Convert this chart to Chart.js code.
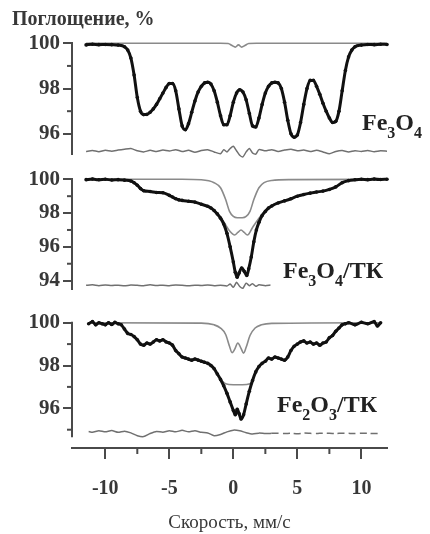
<!DOCTYPE html>
<html>
<head>
<meta charset="utf-8">
<script src="https://cdn.jsdelivr.net/npm/chart.js@4.4.1/dist/chart.umd.min.js"></script>
<style>
  html, body { margin: 0; padding: 0; background: #fff; }
  #wrap { position: relative; width: 430px; height: 534px; overflow: hidden; }
  canvas { position: absolute; left: 0; }
  .lab { position: absolute; font: bold 24px 'Liberation Serif', serif; color: #222; line-height: 24px; white-space: nowrap; }
  .lab sub { font-size: 16px; vertical-align: -8px; line-height: 0; }
</style>
</head>
<body>
<div id="wrap">
  <canvas id="c1" width="430" height="170" style="top:0px"></canvas>
  <canvas id="c2" width="430" height="150" style="top:155px"></canvas>
  <canvas id="c3" width="430" height="244" style="top:290px"></canvas>
  <div class="lab" style="left:362px;top:110px">Fe<sub>3</sub>O<sub>4</sub></div>
  <div class="lab" style="left:283px;top:258px">Fe<sub>3</sub>O<sub>4</sub>/ТК</div>
  <div class="lab" style="left:277px;top:392px">Fe<sub>2</sub>O<sub>3</sub>/ТК</div>
</div>
<script>
// --- data (velocity mm/s, absorption %) ---

// Fe3O4
var vel1 = [-11.5,-11,-10.5,-10,-9.5,-9,-8.5,-8.25,-8,-7.75,-7.5,-7.25,-7,-6.75,-6.5,-6.25,-6,-5.75,-5.5,-5.25,-5,-4.75,-4.5,-4.25,-4,-3.75,-3.5,-3.25,-3,-2.75,-2.5,-2.25,-2,-1.75,-1.5,-1.25,-1,-0.75,-0.5,-0.25,0,0.25,0.5,0.75,1,1.25,1.5,1.75,2,2.25,2.5,2.75,3,3.25,3.5,3.75,4,4.25,4.5,4.75,5,5.25,5.5,5.75,6,6.25,6.5,6.75,7,7.25,7.5,7.75,8,8.25,8.5,8.75,9,9.25,9.5,10,10.5,11,11.5,12];
var abs1 = [99.93,99.96,99.94,99.95,99.94,99.92,99.85,99.7,99.35,98.6,97.6,97.0,96.85,96.86,96.95,97.1,97.3,97.55,97.8,98.05,98.22,98.22,97.9,97.1,96.35,96.18,96.45,96.95,97.45,97.85,98.1,98.25,98.28,98.2,97.9,97.4,96.8,96.4,96.4,96.8,97.4,97.8,97.95,97.85,97.5,96.9,96.35,96.3,96.7,97.3,97.8,98.1,98.25,98.28,98.25,98.0,97.4,96.6,96.0,95.85,95.95,96.5,97.3,98.0,98.36,98.36,98.1,97.75,97.35,97.0,96.7,96.5,96.55,97.0,97.9,98.8,99.4,99.7,99.85,99.92,99.95,99.94,99.96,99.95];
var fitVel1 = [-11.5,-1.0,-0.4,-0.1,0.15,0.4,0.65,0.9,1.2,1.8,12];
var fit1 = [100,100,99.99,99.9,99.83,99.93,99.83,99.9,99.99,100,100];
var resVel1 = [-11.5,-11,-10.5,-10,-9.5,-9,-8.5,-8,-7.5,-7,-6.5,-6,-5.5,-5,-4.5,-4,-3.5,-3,-2.5,-2,-1.5,-1,-0.75,-0.5,-0.25,0,0.25,0.5,0.75,1,1.25,1.5,1.75,2,2.5,3,3.5,4,4.5,5,5.5,6,6.5,7,7.5,8,8.5,9,9.5,10,10.5,11,11.5,12];
var res1 = [95.22,95.26,95.21,95.27,95.23,95.28,95.32,95.35,95.25,95.2,95.27,95.22,95.28,95.24,95.3,95.22,95.27,95.18,95.26,95.3,95.2,95.12,95.3,95.2,95.35,95.45,95.25,95.05,94.98,95.2,95.35,95.15,95.1,95.3,95.25,95.3,95.22,95.28,95.32,95.25,95.28,95.22,95.27,95.2,95.12,95.22,95.26,95.2,95.25,95.22,95.26,95.21,95.25,95.23];

// Fe3O4/ТК
var vel2 = [-11.5,-11,-10.5,-10,-9.5,-9,-8.5,-8,-7.75,-7.5,-7.25,-7,-6.5,-6,-5.5,-5,-4.75,-4.5,-4.25,-4,-3.5,-3,-2.5,-2,-1.75,-1.5,-1.25,-1,-0.75,-0.5,-0.25,0,0.15,0.3,0.45,0.65,0.85,1.05,1.2,1.4,1.6,1.8,2,2.25,2.5,2.75,3,3.5,4,4.5,5,5.5,6,6.5,7,7.5,8,8.5,9,9.5,10,10.5,11,11.5,12];
var abs2 = [99.98,100.02,99.97,100,99.96,99.98,99.95,99.9,99.8,99.65,99.45,99.32,99.28,99.22,99.2,99.05,98.95,98.85,98.78,98.75,98.7,98.65,98.52,98.4,98.3,98.15,97.95,97.7,97.35,96.8,96.0,95.1,94.5,94.2,94.45,94.75,94.55,94.3,94.7,95.4,96.3,97.0,97.45,97.85,98.1,98.3,98.42,98.6,98.72,98.85,99.0,99.1,99.18,99.25,99.3,99.4,99.55,99.8,99.92,99.97,100,99.98,100.02,99.99,100];
var fitVelA2 = [-11.5,-4,-2.5,-1.5,-1.0,-0.6,-0.3,0,0.3,0.7,1.0,1.3,1.6,2.0,2.4,3.0,4.5,12];
var fitA2 = [100,100,99.97,99.8,99.5,98.8,98.1,97.8,97.72,97.72,97.8,98.1,98.8,99.5,99.8,99.93,99.98,100];
var fitVelB2 = [-1.5,-1.0,-0.6,-0.3,0.1,0.35,0.6,0.85,1.1,1.5,2.0,2.5,3.0,3.5,4.0];
var fitB2 = [98.2,97.75,97.3,96.95,96.7,96.85,97.0,96.85,96.7,97.15,97.7,98.15,98.45,98.62,98.72];
var resVel2 = [-11.5,-11,-10.5,-10,-9.5,-9,-8.5,-8,-7.5,-7,-6.5,-6,-5.5,-5,-4.5,-4,-3.5,-3,-2.5,-2,-1.5,-1,-0.5,-0.25,0,0.25,0.5,0.75,1,1.25,1.5,1.75,2,2.5,2.9];
var res2 = [93.72,93.75,93.7,93.74,93.71,93.73,93.69,93.74,93.72,93.7,93.75,93.71,93.73,93.7,93.74,93.72,93.69,93.73,93.71,93.74,93.7,93.73,93.68,93.8,93.6,93.9,93.65,93.55,93.85,93.7,93.82,93.66,93.75,93.7,93.74];

// Fe2O3/ТК
var vel3 = [-11.3,-11,-10.75,-10.5,-10.25,-10,-9.75,-9.5,-9.25,-9,-8.75,-8.5,-8.25,-8,-7.75,-7.5,-7.25,-7,-6.75,-6.5,-6.25,-6,-5.75,-5.5,-5.25,-5,-4.75,-4.5,-4.25,-4,-3.75,-3.5,-3.25,-3,-2.75,-2.5,-2.25,-2,-1.75,-1.5,-1.25,-1,-0.75,-0.5,-0.25,0,0.15,0.3,0.45,0.6,0.8,1,1.25,1.5,1.75,2,2.25,2.5,2.75,3,3.25,3.5,3.75,4,4.25,4.5,4.75,5,5.25,5.5,5.75,6,6.25,6.5,6.75,7,7.25,7.5,7.75,8,8.25,8.5,8.75,9,9.5,10,10.5,11,11.25,11.5];
var abs3 = [99.95,100.05,99.9,100,99.95,99.9,100,99.92,100.02,99.95,99.9,99.7,99.5,99.45,99.35,99.2,99.0,98.95,99.05,99.0,99.1,99.2,99.15,99.2,99.1,99.05,98.95,98.7,98.55,98.4,98.35,98.3,98.25,98.3,98.25,98.2,98.15,98.1,98.0,97.85,97.6,97.35,97.05,96.7,96.3,95.9,95.7,95.95,95.75,95.5,95.7,96.2,96.8,97.3,97.7,97.95,98.1,98.2,98.35,98.3,98.4,98.35,98.3,98.25,98.4,98.7,98.9,99.0,99.1,99.15,99.05,99.1,99.0,99.05,98.95,99.05,99.1,99.3,99.4,99.6,99.75,99.9,99.95,100,99.9,100.02,99.95,100.05,99.85,100];
var fitVelA3 = [-11.3,-2.5,-1.5,-1.0,-0.6,-0.3,-0.1,0.1,0.35,0.6,0.8,1.0,1.3,1.7,2.2,3.0,11.5];
var fitA3 = [100,99.98,99.9,99.75,99.45,98.9,98.6,98.75,99.05,98.8,98.58,98.85,99.4,99.75,99.9,99.97,100];
var fitVelB3 = [-1.0,-0.6,0,0.7,1.3,1.5];
var fitB3 = [97.35,97.15,97.1,97.1,97.15,97.3];
var resVel3 = [-11.3,-11,-10.5,-10,-9.5,-9,-8.5,-8,-7.5,-7,-6.5,-6,-5.5,-5,-4.5,-4,-3.5,-3,-2.5,-2,-1.5,-1,-0.5,0,0.5,1,1.5,2,2.5,3,3.5,4,4.5,5,5.5,6,6.5,7,7.5,8,8.5,9,9.5,10,10.5,11,11.5];
var res3 = [94.92,94.88,94.95,94.9,94.96,94.88,94.93,94.85,94.72,94.68,94.82,94.92,94.88,94.95,94.9,94.97,94.9,94.95,94.88,94.85,94.72,94.78,94.9,94.98,94.95,94.86,94.8,94.84,94.82,94.83,94.84,94.82,94.83,94.81,94.84,94.83,94.82,94.84,94.83,94.82,94.84,94.83,94.82,94.84,94.83,94.82,94.83];

// axis ticks
var velTicks = [-10, -5, 0, 5, 10];
var velMinor = [-7.5, -2.5, 2.5, 7.5];
var yTicks1 = [100, 98, 96];
var yMinor1 = [99, 97];
var yTicks2 = [100, 98, 96, 94];
var yMinor2 = [99, 97, 95];
var yTicks3 = [100, 98, 96];
var yMinor3 = [99, 97, 95];

var AXIS = '#4a4a4a';
var TEXT = '#383838';
var DATA = '#111';
var FIT = '#8a8a8a';
var RES = '#707070';

Chart.defaults.font.family = "'Liberation Serif', 'Times New Roman', serif";
Chart.defaults.color = TEXT;

function pts(xs, ys) {
  return xs.map(function (x, i) { return { x: x, y: ys[i] }; });
}

// minor ticks (and a free-standing y axis line where needed)
var minorTicks = {
  id: 'minorTicks',
  afterDraw: function (chart, args, opts) {
    var ctx = chart.ctx, area = chart.chartArea;
    var ys = chart.scales.y, xs = chart.scales.x;
    ctx.save();
    ctx.strokeStyle = AXIS;
    ctx.lineWidth = 2;
    if (opts.axisTo != null) {
      ctx.beginPath();
      ctx.moveTo(area.left, ys.getPixelForValue(ys.max) - 1);
      ctx.lineTo(area.left, ys.getPixelForValue(opts.axisTo));
      ctx.stroke();
    }
    (opts.y || []).forEach(function (v) {
      var p = ys.getPixelForValue(v);
      ctx.beginPath(); ctx.moveTo(area.left - 5, p); ctx.lineTo(area.left, p); ctx.stroke();
    });
    (opts.x || []).forEach(function (v) {
      var p = xs.getPixelForValue(v);
      ctx.beginPath(); ctx.moveTo(p, area.bottom); ctx.lineTo(p, area.bottom + 6); ctx.stroke();
    });
    ctx.restore();
  }
};

function dataSet(xs, ys) {
  return { data: pts(xs, ys), borderColor: DATA, backgroundColor: DATA, borderWidth: 3,
    pointRadius: 1.8, pointBorderWidth: 0, cubicInterpolationMode: 'monotone', clip: false };
}
function fitSet(xs, ys) {
  return { data: pts(xs, ys), borderColor: FIT, borderWidth: 1.6, pointRadius: 0,
    cubicInterpolationMode: 'monotone', clip: false };
}
function resSet(xs, ys, dashFrom) {
  var ds = { data: pts(xs, ys), borderColor: RES, borderWidth: 1.5, pointRadius: 0, tension: 0.2, clip: false };
  if (dashFrom != null) {
    ds.segment = { borderDash: function (c) { return c.p0.parsed.x >= dashFrom ? [7, 4] : undefined; } };
  }
  return ds;
}

function yScale(min, ticks, padLeft, showBorder, fontSize) {
  return {
    type: 'linear', min: min, max: 100,
    afterBuildTicks: function (s) { s.ticks = ticks.map(function (v) { return { value: v }; }); },
    afterFit: function (s) { s.width = 72 - padLeft; },
    grid: { drawOnChartArea: false, tickLength: 9, color: AXIS, lineWidth: 2 },
    border: { display: showBorder, color: AXIS, width: 2 },
    ticks: { padding: 3, color: TEXT, font: { size: fontSize, weight: 'bold' }, callback: function (v) { return String(v); } }
  };
}

function hiddenX() {
  return { type: 'linear', min: -12.6, max: 12.0, display: false };
}

function make(id, datasets, scales, layout, extraPlugins) {
  return new Chart(document.getElementById(id), {
    type: 'line',
    data: { datasets: datasets },
    options: {
      responsive: false, animation: false, devicePixelRatio: 1,
      layout: { padding: layout, autoPadding: false },
      scales: scales,
      plugins: Object.assign({ legend: { display: false }, tooltip: { enabled: false }, title: { display: false } }, extraPlugins)
    },
    plugins: [minorTicks]
  });
}

// panel 1: Fe3O4
make('c1',
  [dataSet(vel1, abs1), fitSet(fitVel1, fit1), resSet(resVel1, res1)],
  { x: hiddenX(), y: yScale(95.09, yTicks1, 12, true, 21) },
  { top: 0, left: 12, right: 43, bottom: 12 },
  {
    title: { display: true, text: 'Поглощение, %', align: 'start', color: TEXT,
      font: { size: 20, weight: 'bold' }, padding: { top: 8, bottom: 11.3 } },
    minorTicks: { y: yMinor1 }
  });

// panel 2: Fe3O4/ТК
make('c2',
  [dataSet(vel2, abs2), fitSet(fitVelA2, fitA2), fitSet(fitVelB2, fitB2), resSet(resVel2, res2)],
  { x: hiddenX(), y: yScale(93.48, yTicks2, 0, true, 21) },
  { top: 24.3, left: 0, right: 43, bottom: 8.3 },
  { minorTicks: { y: yMinor2 } });

// panel 3: Fe2O3/ТК, carries the velocity axis
var x3 = {
  type: 'linear', min: -12.6, max: 12.0,
  afterBuildTicks: function (s) { s.ticks = velTicks.map(function (v) { return { value: v }; }); },
  afterFit: function (s) { s.height = 86; },
  grid: { drawOnChartArea: false, tickLength: 11, color: AXIS, lineWidth: 2 },
  border: { display: true, color: AXIS, width: 2 },
  ticks: { padding: 18, autoSkip: false, maxRotation: 0, color: TEXT, font: { size: 20, weight: 'bold' },
    callback: function (v) { return String(v); } },
  title: { display: true, text: 'Скорость, мм/с', color: TEXT, font: { size: 19 }, padding: { top: 0, bottom: 0 } }
};
make('c3',
  [dataSet(vel3, abs3), fitSet(fitVelA3, fitA3), fitSet(fitVelB3, fitB3), resSet(resVel3, res3, 2.6)],
  { x: x3, y: yScale(94.145, yTicks3, 0, false, 21) },
  { top: 32.7, left: 0, right: 43, bottom: 0 },
  { minorTicks: { y: yMinor3, x: velMinor, axisTo: 94.65 } });
</script>
</body>
</html>
